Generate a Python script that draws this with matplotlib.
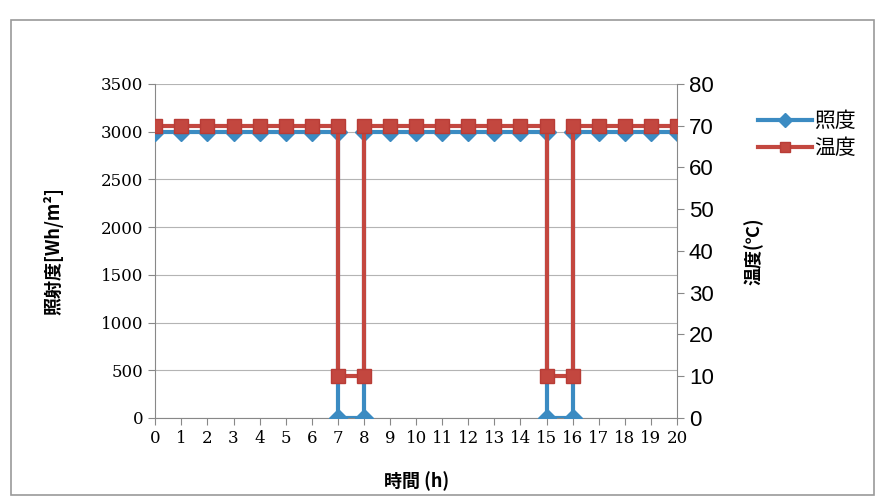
import matplotlib.pyplot as plt
from matplotlib.patches import Rectangle

# 時間 (h) - 7時と16時の切り替えで同じ時刻に2点ある
jikan = [0, 1, 2, 3, 4, 5, 6, 7, 7, 8, 8, 9, 10, 11, 12, 13, 14, 15, 15, 16, 16, 17, 18, 19, 20]
shoudo = [3000, 3000, 3000, 3000, 3000, 3000, 3000, 3000, 0, 0, 3000, 3000, 3000, 3000,
          3000, 3000, 3000, 3000, 0, 0, 3000, 3000, 3000, 3000, 3000]
ondo = [70, 70, 70, 70, 70, 70, 70, 70, 10, 10, 70, 70, 70, 70,
        70, 70, 70, 70, 10, 10, 70, 70, 70, 70, 70]
x_ticks = list(range(0, 21))

plt.rcParams['font.family'] = ['Noto Sans CJK JP', 'DejaVu Sans']

fig = plt.figure(figsize=(8.77, 4.97), dpi=100)
ax = fig.add_axes([0.177, 0.159, 0.595, 0.672])
ax2 = ax.twinx()

# 枠線
fig.patches.append(Rectangle((0.012, 0.004), 0.985, 0.955, transform=fig.transFigure,
                             fill=False, edgecolor='#9a9a9a', linewidth=1.2))

l1, = ax.plot(jikan, shoudo, color='#3b8bc2', linewidth=3, marker='D', markersize=9,
              markerfacecolor='#3b8bc2', markeredgecolor='#3b8bc2', zorder=3, label='照度')
l2, = ax2.plot(jikan, ondo, color='#c3473f', linewidth=3, marker='s', markersize=10,
               markerfacecolor='#c3473f', markeredgecolor='#b83c36', zorder=4, label='温度')

ax.set_xlim(0, 20)
ax.set_ylim(0, 3500)
ax2.set_ylim(0, 80)
ax.set_xticks(x_ticks)
ax.set_yticks(range(0, 3501, 500))
ax2.set_yticks(range(0, 81, 10))

ax.grid(axis='y', color='#b4b4b4', linewidth=0.8)
ax.set_axisbelow(True)

ax.spines['top'].set_visible(False)
ax2.spines['top'].set_visible(False)
ax.spines['right'].set_visible(False)
ax2.spines['right'].set_color('#888888')
ax2.spines['left'].set_visible(False)
ax2.spines['bottom'].set_visible(False)
ax.spines['left'].set_color('#888888')
ax.spines['bottom'].set_color('#888888')

ax.tick_params(axis='both', direction='out', length=5, color='#888888')
ax2.tick_params(axis='y', direction='out', length=5, color='#888888')
for t in ax.get_xticklabels() + ax.get_yticklabels():
    t.set_fontfamily('DejaVu Serif')
    t.set_fontsize(12)
for t in ax2.get_yticklabels():
    t.set_fontfamily('Liberation Sans')
    t.set_fontsize(16)

ax.set_xlabel('時間 (h)', fontsize=13, fontweight='bold', labelpad=18)
ax.set_ylabel('照射度[Wh/m²]', fontsize=13, fontweight='bold', labelpad=27)
ax2.set_ylabel('温度(℃)', fontsize=13, fontweight='bold', rotation=90, labelpad=22)

leg = fig.legend(handles=[l1, l2], loc='upper left', bbox_to_anchor=(0.852, 0.80),
                 frameon=False, fontsize=15, handlelength=2.6, handletextpad=0.1,
                 labelspacing=0.25, borderpad=0)
for h in leg.legend_handles:
    h.set_markersize(7)

fig.savefig('out.png', dpi=100)
